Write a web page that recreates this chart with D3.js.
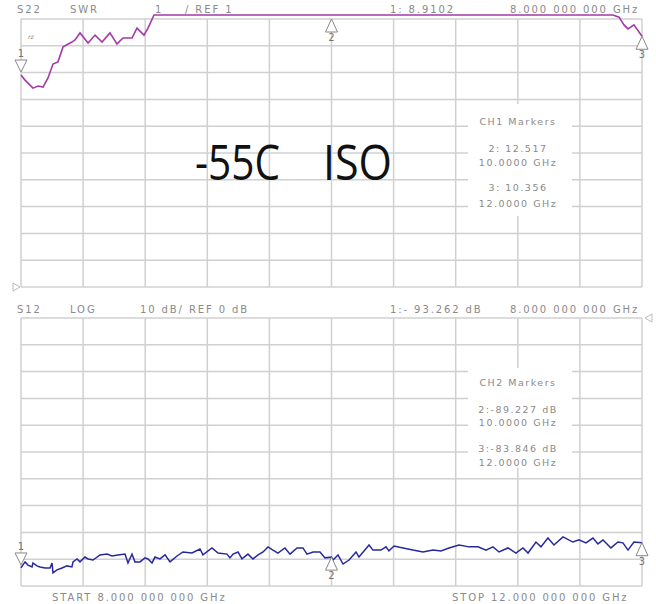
<!DOCTYPE html>
<html><head><meta charset="utf-8">
<script src="https://cdn.jsdelivr.net/npm/d3@7"></script>
<style>body{margin:0;background:#fff}svg{display:block}</style>
</head><body>
<script>
// ---- data ----
const freqStartGHz = 8, freqStopGHz = 12;
const swrFreq = [8.000,8.026,8.077,8.110,8.142,8.174,8.206,8.238,8.271,8.328,8.348,8.380,8.432,8.477,8.522,8.573,8.618,8.657,8.715,8.747,8.792,8.818,8.857,8.90,9.5,10.0,10.5,11.0,11.5,11.78,11.813,11.852,11.884,11.910,11.948,12.000];
const swrVal  = [8.91,8.72,8.42,8.50,8.46,8.80,9.32,9.40,9.96,10.14,10.22,10.48,10.10,10.40,10.14,10.48,10.07,10.29,10.29,10.66,10.40,10.66,11.15,12.0,12.3,12.517,12.4,12.2,11.9,11.6,11.15,11.07,10.78,10.63,10.78,10.356];
const isoFreq = [8.000,8.026,8.045,8.071,8.077,8.103,8.122,8.155,8.187,8.200,8.206,8.232,8.264,8.296,8.328,8.335,8.361,8.380,8.412,8.432,8.464,8.509,8.554,8.586,8.625,8.670,8.689,8.715,8.734,8.766,8.799,8.818,8.844,8.863,8.895,8.928,8.960,9.005,9.043,9.101,9.153,9.172,9.230,9.269,9.327,9.346,9.366,9.398,9.423,9.462,9.494,9.527,9.559,9.591,9.623,9.655,9.700,9.733,9.778,9.816,9.842,9.881,9.926,9.958,10.000,10.010,10.042,10.074,10.113,10.158,10.177,10.242,10.267,10.319,10.351,10.370,10.403,10.461,10.525,10.589,10.654,10.705,10.757,10.821,10.886,10.944,10.995,11.040,11.079,11.137,11.188,11.233,11.266,11.317,11.349,11.394,11.433,11.491,11.555,11.594,11.639,11.684,11.716,11.749,11.800,11.845,11.877,11.910,11.948,12.000];
const isoVal  = [-93.26,-91.0,-92.2,-92.9,-91.4,-92.5,-92.9,-93.3,-93.3,-91.4,-95.1,-94.0,-93.3,-92.5,-92.9,-91.0,-89.9,-91.0,-89.2,-89.9,-90.3,-88.4,-88.1,-88.8,-88.4,-88.1,-91.4,-88.1,-91.0,-91.0,-89.5,-89.9,-91.4,-89.2,-89.9,-88.4,-91.0,-88.8,-87.3,-87.7,-86.2,-88.4,-85.8,-87.7,-88.1,-89.5,-88.1,-87.3,-89.9,-88.1,-89.9,-88.4,-87.3,-85.4,-86.6,-87.7,-85.8,-88.1,-85.8,-85.8,-88.1,-87.3,-87.3,-89.5,-89.23,-90.3,-88.4,-91.8,-90.3,-87.3,-89.2,-84.7,-86.6,-86.6,-85.4,-86.9,-85.1,-85.8,-86.6,-87.3,-86.6,-86.9,-85.8,-84.7,-85.4,-85.4,-86.6,-85.4,-87.3,-85.8,-87.7,-85.8,-87.7,-83.6,-85.4,-82.1,-84.7,-81.7,-83.6,-82.8,-83.9,-82.1,-84.3,-82.8,-85.8,-83.6,-83.9,-86.6,-83.6,-83.85];
const swrMarkers = [{n:"1",f:8,v:8.9102,dir:"down"},{n:"2",f:10,v:12.517,dir:"up"},{n:"3",f:12,v:10.356,dir:"up"}];
const isoMarkers = [{n:"1",f:8,v:-93.262,dir:"down"},{n:"2",f:10,v:-89.227,dir:"up"},{n:"3",f:12,v:-83.846,dir:"up"}];
const topHeader = [["S22",17],["SWR",70],["1",155],["/ REF 1",185],["1: 8.9102",390],["8.000 000 000 GHz",510]];
const botHeader = [["S12",17],["LOG",70],["10 dB/ REF 0 dB",140],["1:- 93.262 dB",390],["8.000 000 000 GHz",510]];
const footer = [["START 8.000 000 000 GHz",52],["STOP 12.000 000 000 GHz",452]];
const ch1Lines = ["CH1 Markers","2: 12.517","10.0000 GHz","3: 10.356","12.0000 GHz"];
const ch2Lines = ["CH2 Markers","2:-89.227 dB","10.0000 GHz","3:-83.846 dB","12.0000 GHz"];

// ---- drawing ----
const W=656,H=604;
const svg=d3.select("body").append("svg").attr("width",W).attr("height",H);
const x=d3.scaleLinear().domain([freqStartGHz,freqStopGHz]).range([21,642]);
const yT=d3.scaleLinear().domain([1,11]).range([287,19]);
const yB=d3.scaleLinear().domain([-100,0]).range([586,318]);
const gridC="#d0d0d0", txtC="#8a8a8a";
const font="'DejaVu Sans', sans-serif";
const TOP_LIMIT=15; // display clips trace just above the top graticule

function grid(y, vals){
  const g=svg.append("g").attr("stroke",gridC).attr("stroke-width",1.5);
  g.selectAll("line.v").data(d3.range(11).map(i=>freqStartGHz+i*0.4)).join("line")
    .attr("x1",d=>x(d)).attr("x2",d=>x(d)).attr("y1",y.range()[1]).attr("y2",y.range()[0]);
  g.selectAll("line.h").data(vals).join("line")
    .attr("x1",x.range()[0]).attr("x2",x.range()[1]).attr("y1",d=>y(d)).attr("y2",d=>y(d));
}
grid(yT,d3.range(11).map(i=>1+i));
grid(yB,d3.range(11).map(i=>-100+10*i));

function box(x0,y0,w,h,lines,ys){
  svg.append("rect").attr("x",x0).attr("y",y0).attr("width",w).attr("height",h).attr("fill","#fff");
  svg.selectAll(null).data(lines).join("text").attr("x",518).attr("y",(d,i)=>ys[i])
    .attr("text-anchor","middle").attr("font-family",font).attr("font-size",9.5)
    .attr("letter-spacing",1.5).attr("fill",txtC).text(d=>d);
}
box(468,104,104,112,ch1Lines,[125,152,166,191,207]);
box(468,368,104,100,ch2Lines,[386,413,426,452,466]);

function header(items,y){
  svg.selectAll(null).data(items).join("text").attr("x",d=>d[1]).attr("y",y)
   .attr("font-family",font).attr("font-size",10).attr("letter-spacing",1.9)
   .attr("fill",txtC).text(d=>d[0]);
}
header(topHeader,13);
header(botHeader,313);
header(footer,601);

svg.append("path").datum(d3.zip(swrFreq,swrVal))
  .attr("fill","none").attr("stroke","#a43aa8").attr("stroke-width",1.6)
  .attr("d",d3.line().x(d=>x(d[0])).y(d=>Math.max(yT(d[1]),TOP_LIMIT)));
svg.append("path").datum(d3.zip(isoFreq,isoVal))
  .attr("fill","none").attr("stroke","#27299b").attr("stroke-width",1.5)
  .attr("d",d3.line().x(d=>x(d[0])).y(d=>yB(d[1])));

function markers(ms,y,yClip){
  ms.forEach(m=>{
    const px=x(m.f), py=Math.max(y(m.v),yClip);
    const g=svg.append("g").attr("fill","#fff").attr("stroke","#888").attr("stroke-width",1);
    if(m.dir==="down"){
      g.append("path").attr("d",`M${px-6},${py-15}L${px+6},${py-15}L${px},${py-3}Z`);
      svg.append("text").attr("x",px).attr("y",py-18).attr("text-anchor","middle")
        .attr("font-family",font).attr("font-size",10).attr("fill","#777").text(m.n);
    } else {
      g.append("path").attr("d",`M${px},${py}L${px-6},${py+13}L${px+6},${py+13}Z`);
      svg.append("text").attr("x",px).attr("y",py+22).attr("text-anchor","middle")
        .attr("font-family",font).attr("font-size",10).attr("fill","#777").text(m.n);
    }
  });
}
markers(swrMarkers,yT,19);
markers(isoMarkers,yB,318);

// reference indicators
svg.append("path").attr("d",`M13,${yT(1)-4}L20,${yT(1)}L13,${yT(1)+4}Z`).attr("fill","#fff").attr("stroke","#bbb");
svg.append("path").attr("d",`M652,${yB(0)-4}L645,${yB(0)}L652,${yB(0)+4}Z`).attr("fill","#fff").attr("stroke","#bbb");
svg.append("text").attr("x",28).attr("y",39).attr("font-family",font).attr("font-size",6).attr("font-style","italic").attr("fill","#888").text("rz");

// big label
svg.append("text").attr("x",195).attr("y",180).attr("font-family","'Open Sans', sans-serif").attr("font-size",50)
  .attr("textLength",85).attr("lengthAdjust","spacingAndGlyphs").attr("fill","#111").text("-55C");
svg.append("text").attr("x",323).attr("y",180).attr("font-family","'Open Sans', sans-serif").attr("font-size",50)
  .attr("textLength",69).attr("lengthAdjust","spacingAndGlyphs").attr("fill","#111").text("ISO");
</script>
</body></html>
